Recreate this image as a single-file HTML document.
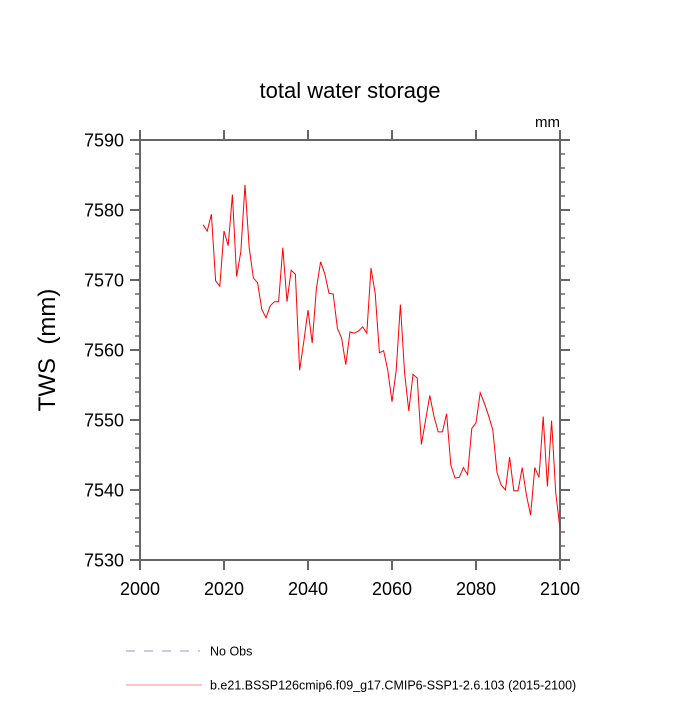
<!DOCTYPE html>
<html><head><meta charset="utf-8"><style>
body{margin:0;background:#fff}
svg text{font-family:"Liberation Sans",sans-serif}
</style></head><body>
<svg id="chart" width="700" height="700" viewBox="0 0 700 700" xmlns="http://www.w3.org/2000/svg">
<text x="350" y="98" font-size="22" text-anchor="middle">total water storage</text>
<text x="560" y="127" font-size="15" text-anchor="end">mm</text>
<text transform="translate(55,350) rotate(-90)" font-size="24" text-anchor="middle" xml:space="preserve">TWS  (mm)</text>
<g id="axes"></g>
<path id="series" fill="none" stroke="#ff0000" stroke-width="1"/>
<g>
<line x1="126" y1="651" x2="200" y2="651" stroke="#9999cc" stroke-width="1" stroke-dasharray="9,9"/>
<text x="210" y="655.5" font-size="12.5">No Obs</text>
<line x1="126" y1="685" x2="202" y2="685" stroke="#ff8888" stroke-width="1"/>
<text x="210" y="689.5" font-size="12.5">b.e21.BSSP126cmip6.f09_g17.CMIP6-SSP1-2.6.103 (2015-2100)</text>
</g>
</svg>
<script>
const startYear = 2015;
const tws = [7577.9,7577.0,7579.4,7569.9,7569.1,7577.0,7574.9,7582.2,7570.5,7574.0,
7583.6,7574.6,7570.3,7569.6,7565.8,7564.6,7566.3,7566.9,7566.9,7574.6,
7566.9,7571.4,7570.8,7557.1,7561.2,7565.7,7561.0,7568.8,7572.6,7570.9,
7568.1,7568.0,7563.1,7561.7,7557.9,7562.6,7562.4,7562.7,7563.3,7562.4,
7571.7,7568.1,7559.6,7559.9,7557.1,7552.6,7557.1,7566.5,7556.7,7551.3,
7556.5,7556.0,7546.5,7550.0,7553.5,7550.5,7548.3,7548.3,7550.9,7543.6,
7541.7,7541.8,7543.2,7542.2,7548.8,7549.6,7553.9,7552.4,7550.6,7548.6,
7542.5,7540.7,7540.0,7544.7,7539.9,7539.9,7543.2,7539.3,7536.4,7543.2,
7541.8,7550.5,7540.5,7549.9,7539.5,7534.5];
const xTicks = [2000,2020,2040,2060,2080,2100];
const yTicks = [7530,7540,7550,7560,7570,7580,7590];
const L=140,R=560,T=140,B=560;
const xMin=2000,xMax=2100,yMin=7530,yMax=7590;
function sx(v){return L+(v-xMin)/(xMax-xMin)*(R-L);}
function sy(v){return B-(v-yMin)/(yMax-yMin)*(B-T);}
const NS="http://www.w3.org/2000/svg";
const g=document.getElementById('axes');
function line(x1,y1,x2,y2,w,name){const l=document.createElementNS(NS,'line');
l.setAttribute('x1',x1);l.setAttribute('y1',y1);l.setAttribute('x2',x2);l.setAttribute('y2',y2);
l.setAttribute('stroke','#666');l.setAttribute('stroke-width',w);


g.appendChild(l);}
function text(x,y,s,anchor,name){const t=document.createElementNS(NS,'text');
t.setAttribute('x',x);t.setAttribute('y',y);t.setAttribute('font-size','18');t.setAttribute('text-anchor',anchor);t.textContent=s;


g.appendChild(t);}
const fr=document.createElementNS(NS,'rect');
fr.setAttribute('x',L);fr.setAttribute('y',T);fr.setAttribute('width',R-L);fr.setAttribute('height',B-T);
fr.setAttribute('fill','none');fr.setAttribute('stroke','#666');fr.setAttribute('stroke-width','2');


g.appendChild(fr);
xTicks.forEach(v=>{const x=sx(v);line(x,B,x,B+10,2,'x-tick');line(x,T,x,T-10,2,'x-tick-top');text(x,B+35,String(v),'middle','x-tick-label');});
yTicks.forEach(v=>{const y=sy(v);line(L-10,y,L,y,2,'y-tick');line(R,y,R+10,y,2,'y-tick-right');text(L-16,y+6.5,String(v),'end','y-tick-label');});
for(let v=yMin;v<=yMax;v+=2){if((v-yMin)%10===0)continue;const y=sy(v);line(L-5,y,L,y,1.5,'y-minor-tick');line(R,y,R+5,y,1.5,'y-minor-tick-right');}
const d=tws.map((v,i)=>(i?'L':'M')+sx(startYear+i).toFixed(1)+','+sy(v).toFixed(1)).join('');
document.getElementById('series').setAttribute('d',d);
</script>
</body></html>
